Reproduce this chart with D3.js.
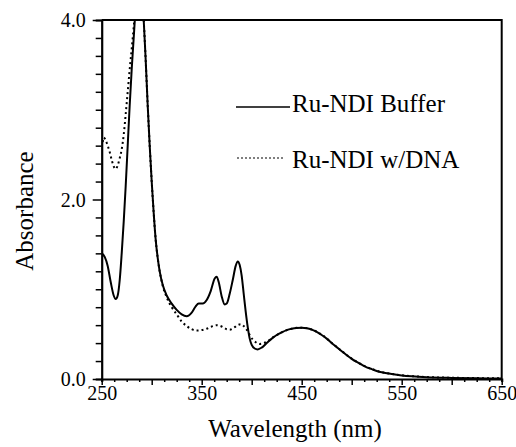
<!DOCTYPE html>
<html>
<head>
<meta charset="utf-8">
<script src="https://cdn.jsdelivr.net/npm/d3@7"></script>
</head>
<body style="margin:0">
<svg id="chart" width="516" height="447"></svg>
<script>
/************************* Data *************************/
// Ru-NDI in buffer (solid)
const bufferWavelength = [250, 253, 256, 259, 262, 264, 266, 268, 270, 272, 274, 276, 278, 280, 282, 284, 287, 290, 292, 294, 296, 298, 300, 302, 304, 306, 308, 311, 315, 320, 325, 330, 335, 340, 344, 347, 351, 355, 359, 363, 365, 367, 370, 373, 375, 378, 381, 384, 386, 388, 390, 392, 394, 396, 398, 400, 403, 406, 410, 415, 420, 425, 430, 435, 440, 445, 450, 455, 460, 465, 470, 475, 480, 485, 490, 495, 500, 505, 510, 515, 520, 525, 530, 540, 550, 560, 575, 600, 625, 650];
const bufferAbs = [1.40, 1.36, 1.26, 1.08, 0.93, 0.89, 0.93, 1.10, 1.40, 1.75, 2.15, 2.60, 3.05, 3.45, 3.80, 4.15, 4.50, 4.30, 4.00, 3.55, 3.05, 2.60, 2.20, 1.85, 1.55, 1.35, 1.20, 1.05, 0.93, 0.84, 0.77, 0.72, 0.70, 0.74, 0.81, 0.84, 0.84, 0.88, 0.98, 1.12, 1.14, 1.08, 0.92, 0.83, 0.84, 0.95, 1.10, 1.26, 1.31, 1.27, 1.15, 0.95, 0.75, 0.58, 0.45, 0.38, 0.34, 0.33, 0.35, 0.40, 0.45, 0.49, 0.52, 0.545, 0.56, 0.568, 0.57, 0.565, 0.55, 0.525, 0.49, 0.45, 0.40, 0.355, 0.31, 0.265, 0.225, 0.19, 0.16, 0.13, 0.11, 0.09, 0.075, 0.055, 0.04, 0.03, 0.02, 0.012, 0.008, 0.005];

// Ru-NDI with DNA (dotted)
const dnaWavelength = [251, 252, 254, 256, 258, 260, 262, 264, 266, 268, 270, 272, 274, 276, 278, 280, 282, 284, 287, 290, 292, 294, 296, 298, 300, 302, 304, 306, 308, 311, 315, 320, 325, 330, 335, 340, 345, 350, 355, 360, 365, 370, 375, 378, 382, 386, 389, 392, 395, 398, 401, 404, 408, 412, 416, 420, 425, 430, 435, 440, 445, 450, 455, 460, 465, 470, 475, 480, 485, 490, 495, 500, 505, 510, 515, 520, 525, 530, 540, 550, 560, 575, 600, 625, 650];
const dnaAbs = [2.64, 2.69, 2.66, 2.60, 2.53, 2.44, 2.37, 2.34, 2.38, 2.46, 2.56, 2.72, 2.95, 3.20, 3.45, 3.68, 3.92, 4.20, 4.50, 4.30, 4.00, 3.55, 3.05, 2.60, 2.20, 1.85, 1.55, 1.35, 1.20, 1.04, 0.91, 0.80, 0.72, 0.64, 0.59, 0.555, 0.54, 0.545, 0.56, 0.585, 0.60, 0.585, 0.555, 0.55, 0.57, 0.60, 0.61, 0.59, 0.55, 0.49, 0.44, 0.41, 0.39, 0.40, 0.42, 0.455, 0.49, 0.52, 0.545, 0.56, 0.57, 0.572, 0.567, 0.552, 0.527, 0.492, 0.452, 0.402, 0.357, 0.312, 0.267, 0.227, 0.192, 0.162, 0.132, 0.112, 0.092, 0.077, 0.057, 0.042, 0.032, 0.022, 0.014, 0.01, 0.007];

const seriesNames = ["Ru-NDI Buffer", "Ru-NDI w/DNA"];
const xTickLabels = [250, 350, 450, 550, 650];
const yTickLabels = [0, 2, 4];

/************************* Layout *************************/
const plot = { left: 101.7, top: 20, width: 400, height: 359 };

const svg = d3.select("#chart");

const x = d3.scaleLinear().domain([250, 650]).range([plot.left, plot.left + plot.width]);
const y = d3.scaleLinear().domain([0, 4]).range([plot.top + plot.height, plot.top]);

// all text goes through here so the serif face is set the same way everywhere
function serifText(sel, size) {
  return sel
    .attr("font-family", "Liberation Serif")
    .attr("font-size", size)
    .style("font-family", "Liberation Serif")
    .style("font-size", size + "px");
}

/************************* Titles and legend (text first) *************************/
svg.append("text")
  .attr("transform", "translate(33,211) rotate(-90)")
  .attr("text-anchor", "middle")
  .call(serifText, 25)
  .text("Absorbance");

svg.append("text")
  .attr("x", 295).attr("y", 437)
  .attr("text-anchor", "middle")
  .call(serifText, 25)
  .text("Wavelength (nm)");

const legend = svg.append("g");

legend.append("line")
  .attr("x1", 236).attr("x2", 290)
  .attr("y1", 107).attr("y2", 107)
  .attr("stroke", "#000").attr("stroke-width", 1.6);
legend.append("text")
  .attr("x", 292).attr("y", 112)
  .call(serifText, 25)
  .text(seriesNames[0]);

legend.append("line")
  .attr("x1", 237).attr("x2", 285)
  .attr("y1", 158).attr("y2", 158)
  .attr("stroke", "#000").attr("stroke-width", 1.2)
  .attr("stroke-dasharray", "2,2");
legend.append("text")
  .attr("x", 292).attr("y", 168)
  .call(serifText, 25)
  .text(seriesNames[1]);

/************************* Curves *************************/
svg.append("clipPath").attr("id", "plotClip")
  .append("rect")
  .attr("x", plot.left).attr("y", plot.top)
  .attr("width", plot.width).attr("height", plot.height);

const line = d3.line()
  .x(d => x(d[0]))
  .y(d => y(d[1]))
  .curve(d3.curveMonotoneX);

const bufferPts = d3.zip(bufferWavelength, bufferAbs);
const dnaPts = d3.zip(dnaWavelength, dnaAbs);

const curves = svg.append("g").attr("clip-path", "url(#plotClip)");

curves.append("path")
  .attr("d", line(dnaPts))
  .attr("fill", "none")
  .attr("stroke", "#000")
  .attr("stroke-width", 2)
  .attr("stroke-dasharray", "2,3");

curves.append("path")
  .attr("d", line(bufferPts))
  .attr("fill", "none")
  .attr("stroke", "#000")
  .attr("stroke-width", 2);

/************************* Axes *************************/
const isLabelled = (list, d) => list.some(v => Math.abs(v - d) < 1e-6);

// y axis: minor ticks every 0.2, labelled at 0, 2, 4
const yAxis = d3.axisLeft(y)
  .tickValues(d3.range(0, 21).map(i => i * 0.2))
  .tickSize(6)
  .tickPadding(0)
  .tickFormat(d => isLabelled(yTickLabels, d) ? d3.format(".1f")(d) : "");

const gy = svg.append("g")
  .attr("transform", `translate(${plot.left},0)`)
  .call(yAxis);
gy.attr("font-family", null).attr("font-size", null);

gy.selectAll(".tick line")
  .attr("stroke-width", 1.5)
  .attr("x2", d => isLabelled(yTickLabels, d) ? -9 : -6);
gy.selectAll(".tick text")
  .attr("x", -16)
  .attr("dy", "0.34em")
  .call(serifText, 20);

// x axis: minor ticks every 12.5 nm, longer every 50 nm
const xAxis = d3.axisBottom(x)
  .tickValues(d3.range(0, 33).map(i => 250 + i * 12.5))
  .tickSize(3)
  .tickPadding(0)
  .tickFormat(d => xTickLabels.includes(d) ? d : "");

const gx = svg.append("g")
  .attr("transform", `translate(0,${plot.top + plot.height})`)
  .call(xAxis);
gx.attr("font-family", null).attr("font-size", null);

gx.selectAll(".tick line")
  .attr("stroke-width", 1.5)
  .attr("y2", d => (d - 250) % 50 === 0 ? 6 : 3);
gx.selectAll(".tick text")
  .attr("y", 21)
  .attr("dy", 0)
  .call(serifText, 20);

gx.select(".domain").attr("stroke-width", 2.2);
gy.select(".domain").attr("stroke-width", 2.2);

// top and right frame
svg.append("path")
  .attr("d", `M${plot.left},${plot.top}H${plot.left + plot.width}V${plot.top + plot.height}`)
  .attr("fill", "none")
  .attr("stroke", "#000")
  .attr("stroke-width", 2);
</script>
</body>
</html>
